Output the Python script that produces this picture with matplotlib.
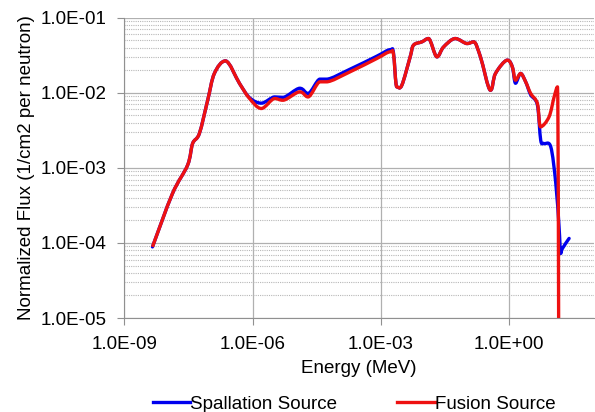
import numpy as np
import matplotlib.pyplot as plt
from matplotlib.path import Path
from matplotlib.patches import PathPatch
from matplotlib.lines import Line2D
from matplotlib.ticker import FixedLocator, LogLocator, NullFormatter

plt.rcParams['font.family'] = ['Liberation Sans', 'DejaVu Sans']

# energy (MeV) and normalized flux
energy = [4.55e-9, 1.34e-8, 3.03e-8, 3.96e-8, 5.70e-8, 8.93e-8, 1.28e-7, 2.33e-7,
          4.97e-7, 8.53e-7, 1.61e-6, 3.30e-6, 5.17e-6, 1.28e-5, 2.00e-5, 3.77e-5,
          5.41e-5, 1.91e-4, 8.10e-4, 1.66e-3, 1.99e-3, 2.39e-3, 3.13e-3, 4.91e-3,
          5.87e-3, 9.25e-3, 1.32e-2, 2.08e-2, 2.97e-2, 5.60e-2, 0.105, 0.151,
          0.217, 0.372, 0.488, 0.920, 1.21, 1.44, 1.89, 2.48, 3.25, 4.67]
flux_spall = [8.87e-5, 4.56e-4, 1.09e-3, 2.11e-3, 2.87e-3, 7.96e-3, 1.81e-2, 2.66e-2,
              1.33e-2, 8.60e-3, 7.28e-3, 8.81e-3, 8.70e-3, 1.15e-2, 9.80e-3, 1.52e-2,
              1.52e-2, 2.06e-2, 3.07e-2, 3.75e-2, 3.45e-2, 1.20e-2, 1.26e-2, 3.01e-2,
              4.31e-2, 4.77e-2, 5.28e-2, 3.01e-2, 4.08e-2, 5.28e-2, 4.53e-2, 4.77e-2,
              3.01e-2, 1.08e-2, 1.81e-2, 2.72e-2, 2.21e-2, 1.34e-2, 1.81e-2, 1.40e-2,
              9.40e-3, 6.90e-3]
flux_fusion = [8.87e-5, 4.56e-4, 1.09e-3, 2.11e-3, 2.87e-3, 7.96e-3, 1.81e-2, 2.66e-2,
               1.33e-2, 8.39e-3, 6.18e-3, 8.39e-3, 7.96e-3, 1.03e-2, 8.81e-3, 1.40e-2,
               1.40e-2, 1.90e-2, 2.86e-2, 3.51e-2, 3.33e-2, 1.20e-2, 1.26e-2, 3.01e-2,
               4.31e-2, 4.77e-2, 5.28e-2, 3.01e-2, 4.08e-2, 5.28e-2, 4.53e-2, 4.77e-2,
               3.01e-2, 1.08e-2, 1.81e-2, 2.72e-2, 2.21e-2, 1.47e-2, 1.81e-2, 1.40e-2,
               9.80e-3, 7.21e-3]

# high energy tails
tail_e_spall = [5.58, 6.67, 9.60, 12.6, 15.0, 16.4, 18.0, 25.8]
tail_f_spall = [2.34e-3, 2.11e-3, 1.91e-3, 6.19e-4, 1.64e-4, 7.24e-5, 8.45e-5, 1.15e-4]
tail_e_fusion = [5.58, 8.75, 11.5, 13.8, 15.0]
tail_f_fusion = [3.52e-3, 4.78e-3, 8.81e-3, 1.20e-2, 1e-7]

x_ticks = [1e-9, 1e-6, 1e-3, 1e0]
x_labels = ['1.0E-09', '1.0E-06', '1.0E-03', '1.0E+00']
y_ticks = [1e-5, 1e-4, 1e-3, 1e-2, 1e-1]
y_labels = ['1.0E-05', '1.0E-04', '1.0E-03', '1.0E-02', '1.0E-01']


def smooth_path(xs, ys):
    # smoothed line like a spreadsheet chart: bezier segments in log space,
    # flat tangents at peaks and dips so they don't overshoot
    lx = np.log10(xs)
    ly = np.log10(ys)
    n = len(lx)
    tx = np.zeros(n)
    ty = np.zeros(n)
    for i in range(n):
        a = max(i - 1, 0)
        b = min(i + 1, n - 1)
        tx[i] = (lx[b] - lx[a]) / 6
        ty[i] = (ly[b] - ly[a]) / 6
        if 0 < i < n - 1 and (ly[i] - ly[a]) * (ly[b] - ly[i]) <= 0:
            ty[i] = 0
    verts = [(lx[0], ly[0])]
    codes = [Path.MOVETO]
    for i in range(n - 1):
        verts += [(lx[i] + tx[i], ly[i] + ty[i]),
                  (lx[i + 1] - tx[i + 1], ly[i + 1] - ty[i + 1]),
                  (lx[i + 1], ly[i + 1])]
        codes += [Path.CURVE4] * 3
    return Path(10 ** np.array(verts), codes)


fig = plt.figure(figsize=(5.95, 4.12), dpi=100)
ax = fig.add_axes([0.2090, 0.228, 0.789, 0.729])

ax.set_xscale('log')
ax.set_yscale('log')
ax.set_xlim(1e-9, 10**1.99)
ax.set_ylim(1e-5, 1e-1)

blue = '#0000ee'
red = '#ee1111'
ax.add_patch(PathPatch(smooth_path(energy + tail_e_spall, flux_spall + tail_f_spall),
                       fill=False, edgecolor=blue, lw=2.4, joinstyle='round', capstyle='round'))
ax.add_patch(PathPatch(smooth_path(energy + tail_e_fusion, flux_fusion + tail_f_fusion),
                       fill=False, edgecolor=red, lw=2.4, joinstyle='round', capstyle='butt'))

ax.xaxis.set_major_locator(FixedLocator(x_ticks))
ax.set_xticklabels(x_labels)
ax.xaxis.set_minor_locator(FixedLocator([]))
ax.yaxis.set_major_locator(FixedLocator(y_ticks))
ax.set_yticklabels(y_labels)
ax.yaxis.set_minor_locator(LogLocator(base=10, subs=range(2, 10)))
ax.yaxis.set_minor_formatter(NullFormatter())

ax.grid(True, which='major', color='#b0b0b0', lw=0.9)
ax.grid(True, which='minor', axis='y', color='#b8b8b8', lw=0.8, linestyle=(0, (1, 1)))
ax.set_axisbelow(True)

for s in ['top', 'right']:
    ax.spines[s].set_visible(False)
for s in ['left', 'bottom']:
    ax.spines[s].set_color('#909090')
ax.tick_params(which='major', length=5, color='#909090', labelsize=13.5, pad=8)
ax.tick_params(which='minor', length=0)

ax.set_xlabel('Energy (MeV)', fontsize=13.5, labelpad=5)
ax.set_ylabel('Normalized Flux (1/cm2 per neutron)', fontsize=13.5, labelpad=4)

handles = [Line2D([], [], color=blue, lw=2.4), Line2D([], [], color=red, lw=2.4)]
fig.legend(handles, ['Spallation Source', 'Fusion Source'], loc='center',
           bbox_to_anchor=(0.595, 0.019), ncol=2, frameon=False, fontsize=13.5,
           handlelength=2.0, handletextpad=0.0, columnspacing=3.2)

fig.savefig('out.png', dpi=100)
